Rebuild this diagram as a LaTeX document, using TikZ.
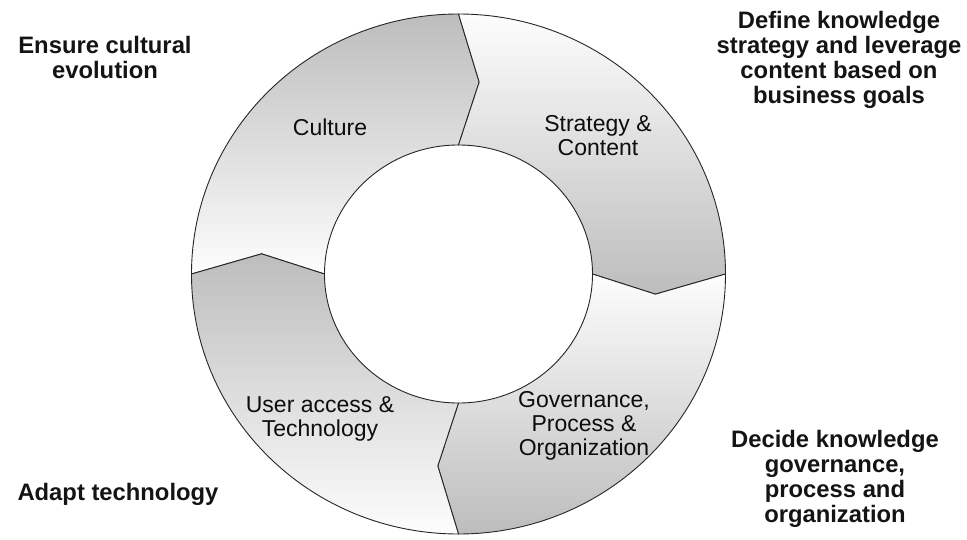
\documentclass[tikz,border=0pt]{standalone}
\usepackage{fontspec}
\setmainfont{Liberation Sans}
\definecolor{segdark}{HTML}{BDBDBD}
\definecolor{seglight}{HTML}{FDFDFD}
\tikzset{
  seg/.style={draw=black!85, line width=0.9pt, line join=miter},
  outerlbl/.style={font=\fontsize{23.8}{25}\selectfont\bfseries, align=center, text=black!92, inner sep=0pt},
  innerlbl/.style={font=\fontsize{23}{24}\selectfont, align=center, text=black!95, inner sep=0pt},
}
\begin{document}
\begin{tikzpicture}[x=1pt,y=1pt]
\useasboundingbox (-458.5,-265) rectangle (508.5,274);
% ring geometry
\foreach \a in {0,90,180,270}{
  \coordinate (o\a) at (\a:267pt and 260pt);
  \coordinate (i\a) at (\a:134pt and 129pt);
  \coordinate (m\a) at ({\a-6}:198pt and 193pt);
}
% Culture (tail 180, head 90)
\draw[seg, top color=segdark, bottom color=seglight]
  (i180) -- (m180) -- (o180) arc[start angle=180, end angle=90, x radius=267pt, y radius=260pt]
  -- (m90) -- (i90) arc[start angle=90, end angle=180, x radius=134pt, y radius=129pt] -- cycle;
% Strategy (tail 90, head 0)
\draw[seg, top color=seglight, bottom color=segdark]
  (i90) -- (m90) -- (o90) arc[start angle=90, end angle=0, x radius=267pt, y radius=260pt]
  -- (m0) -- (i0) arc[start angle=0, end angle=90, x radius=134pt, y radius=129pt] -- cycle;
% Governance (tail 0, head -90)
\draw[seg, top color=seglight, bottom color=segdark]
  (i0) -- (m0) -- (o0) arc[start angle=0, end angle=-90, x radius=267pt, y radius=260pt]
  -- (m270) -- (i270) arc[start angle=-90, end angle=0, x radius=134pt, y radius=129pt] -- cycle;
% User access (tail -90, head -180)
\draw[seg, top color=segdark, bottom color=seglight]
  (i270) -- (m270) -- (o270) arc[start angle=-90, end angle=-180, x radius=267pt, y radius=260pt]
  -- (m180) -- (i180) arc[start angle=-180, end angle=-90, x radius=134pt, y radius=129pt] -- cycle;
% inner labels
\node[innerlbl] (culture) at (-128.5,147) {Culture};
\node[innerlbl] (strategy) at (139.5,138) {Strategy \&\\Content};
\node[innerlbl] (user) at (-138.5,-145) {User access \&\\Technology};
\node[innerlbl] (gov) at (125.5,-152) {Governance,\\Process \&\\Organization};
% outer labels
\node[outerlbl] (ensure) at (-353.5,217) {Ensure cultural\\evolution};
\node[outerlbl] (define) at (380.5,214.5) {Define knowledge\\strategy and leverage\\content based on\\business goals};
\node[outerlbl] (decide) at (376.5,-205) {Decide knowledge\\governance,\\process and\\organization};
\node[outerlbl] (adapt) at (-340.5,-220) {Adapt technology};
\end{tikzpicture}
\end{document}
